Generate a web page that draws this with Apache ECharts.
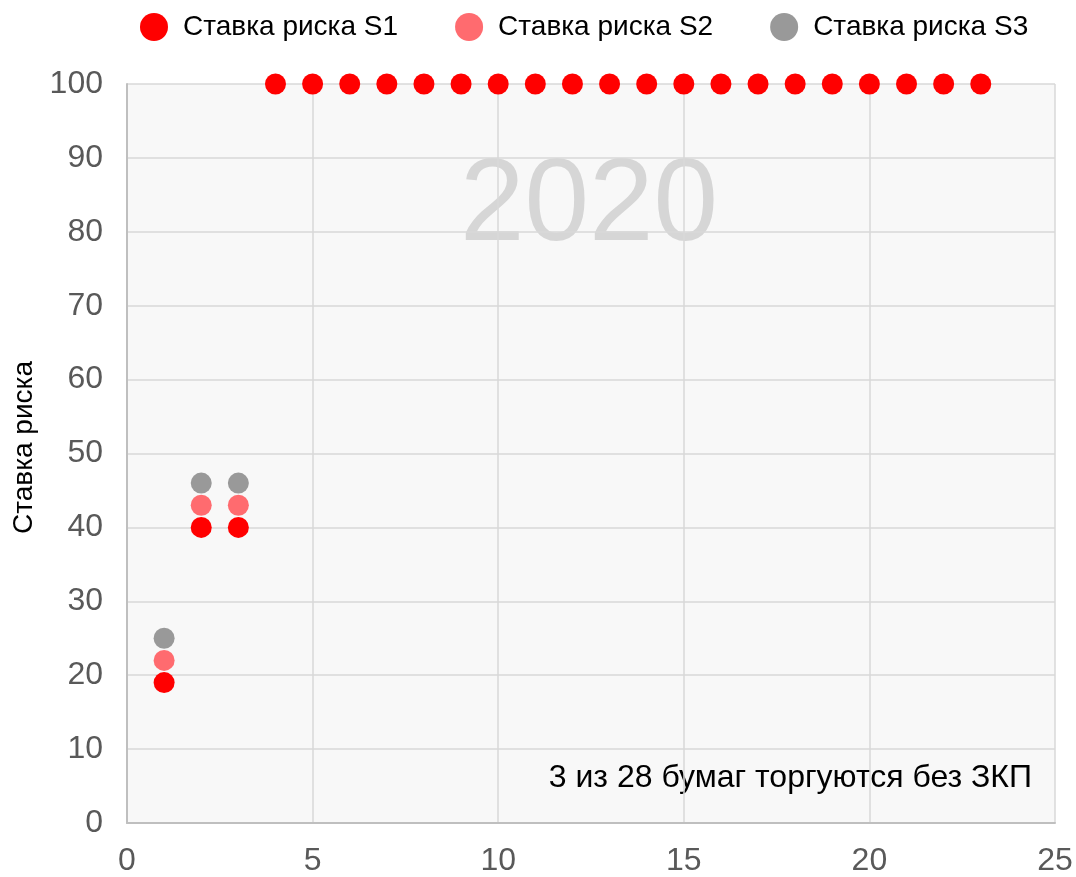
<!DOCTYPE html>
<html><head><meta charset="utf-8">
<script src="https://cdn.jsdelivr.net/npm/echarts@6/dist/echarts.min.js"></script>
<style>html,body{margin:0;padding:0;background:#fff}#c{width:1076px;height:877px}</style>
</head><body><div id="c"></div>
<script>
const seriesNames = ['Ставка риска S1', 'Ставка риска S2', 'Ставка риска S3'];
const s1X = [1, 2, 3, 4, 5, 6, 7, 8, 9, 10, 11, 12, 13, 14, 15, 16, 17, 18, 19, 20, 21, 22, 23];
const s1Y = [19, 40, 40, 100, 100, 100, 100, 100, 100, 100, 100, 100, 100, 100, 100, 100, 100, 100, 100, 100, 100, 100, 100];
const s2X = [1, 2, 3];
const s2Y = [22, 43, 43];
const s3X = [1, 2, 3];
const s3Y = [25, 46, 46];
const colors = ['#ff0000', '#ff6b6f', '#999999'];
const yTitle = 'Ставка риска';
const watermark = '2020';
const note = '3 из 28 бумаг торгуются без ЗКП';

const pair = (xs, ys) => xs.map((x, i) => [x, ys[i]]);
const font = '"Liberation Sans", Arial, sans-serif';
const chart = echarts.init(document.getElementById('c'));
chart.setOption({
  animation: false,
  textStyle: { fontFamily: font },
  legend: {
    top: 8, left: 135, itemWidth: 28, itemHeight: 28, itemGap: 57,
    icon: 'circle',
    textStyle: { fontSize: 28, color: '#000', fontFamily: font, padding: [0, 0, 0, 10] },
    data: seriesNames
  },
  grid: { z: 0, left: 127, right: 21, top: 84, bottom: 54, backgroundColor: '#f8f8f8', show: true, borderWidth: 0 },
  xAxis: {
    z: 2, type: 'value', min: 0, max: 25, interval: 5,
    axisLine: { show: true, lineStyle: { color: '#bfbfbf', width: 2 } },
    axisTick: { show: false },
    splitLine: { show: true, lineStyle: { color: '#d9d9d9', width: 1.5 } },
    axisLabel: { fontSize: 32, color: '#595959', margin: 22, fontFamily: font }
  },
  yAxis: {
    z: 2, type: 'value', min: 0, max: 100, interval: 10,
    name: yTitle, nameLocation: 'middle', nameGap: 76, nameRotate: 90,
    nameTextStyle: { fontSize: 28, color: '#000', fontFamily: font, padding: [0, 0, 0, 12] },
    axisLine: { show: true, lineStyle: { color: '#bfbfbf', width: 2 } },
    axisTick: { show: false },
    splitLine: { show: true, lineStyle: { color: '#d9d9d9', width: 1.5 } },
    axisLabel: { fontSize: 32, color: '#595959', margin: 24, fontFamily: font }
  },
  graphic: [
    { type: 'text', left: 460, top: 150, z: 1, silent: true,
      style: { text: watermark, fontSize: 116, fill: '#d6d6d6', fontFamily: font } },
    { type: 'text', right: 44, top: 762, z: 1,
      style: { text: note, fontSize: 32, fill: '#000', fontFamily: font } }
  ],
  series: [
    { name: seriesNames[2], type: 'scatter', symbolSize: 21, itemStyle: { color: colors[2], opacity: 1 }, data: pair(s3X, s3Y), z: 3 },
    { name: seriesNames[1], type: 'scatter', symbolSize: 21, itemStyle: { color: colors[1], opacity: 1 }, data: pair(s2X, s2Y), z: 4 },
    { name: seriesNames[0], type: 'scatter', symbolSize: 21, itemStyle: { color: colors[0], opacity: 1 }, data: pair(s1X, s1Y), z: 5 }
  ]
});
</script></body></html>
